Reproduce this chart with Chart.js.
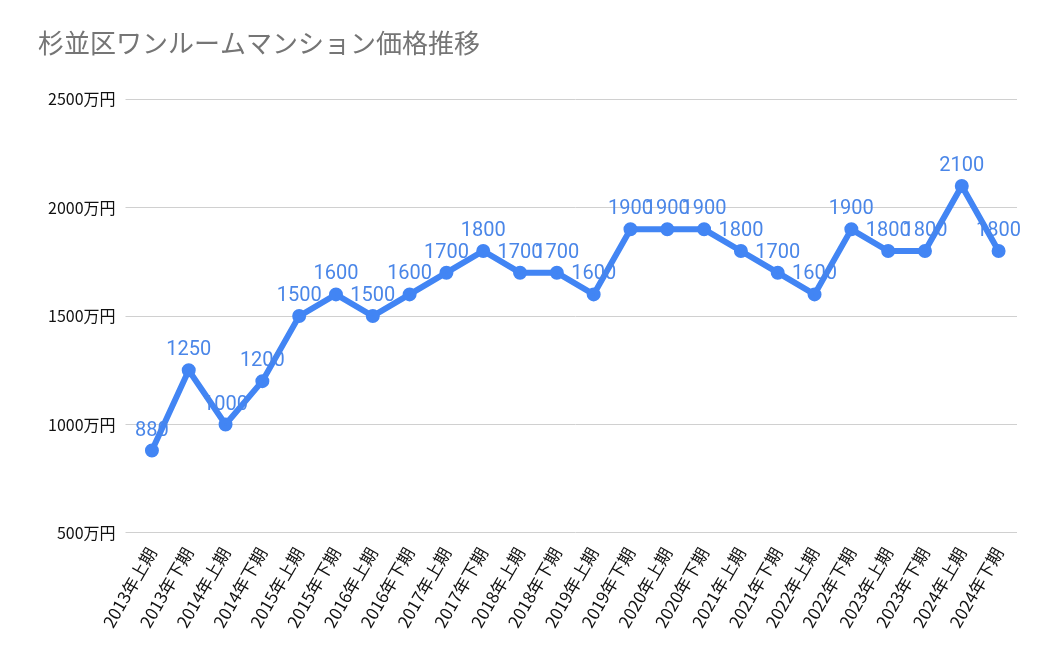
<!DOCTYPE html>
<html><head><meta charset="utf-8">
<script src="https://cdn.jsdelivr.net/npm/chart.js@4"></script>
<style>html,body{margin:0;padding:0;background:#fff}#w{width:1050px;height:649px;position:relative}</style>
</head><body><div id="w"><canvas id="c"></canvas></div>
<script>
const categories=["2013年上期","2013年下期","2014年上期","2014年下期","2015年上期","2015年下期","2016年上期","2016年下期","2017年上期","2017年下期","2018年上期","2018年下期","2019年上期","2019年下期","2020年上期","2020年下期","2021年上期","2021年下期","2022年上期","2022年下期","2023年上期","2023年下期","2024年上期","2024年下期"];
const prices=[880,1250,1000,1200,1500,1600,1500,1600,1700,1800,1700,1700,1600,1900,1900,1900,1800,1700,1600,1900,1800,1800,2100,1800];
const yTicks=[500,1000,1500,2000,2500];
const font="'Noto Sans CJK JP','Roboto',sans-serif";
const labelPlugin={id:'lbl',afterDatasetsDraw(chart){
  const ctx=chart.ctx;const meta=chart.getDatasetMeta(0);
  ctx.save();ctx.font="20px Roboto,'Noto Sans CJK JP',sans-serif";ctx.fillStyle='#4a86e8';ctx.textAlign='center';ctx.textBaseline='bottom';
  meta.data.forEach((p,i)=>{ctx.fillText(String(prices[i]),p.x,p.y-10);});
  ctx.restore();
}};
new Chart(document.getElementById('c'),{
  type:'line',
  data:{labels:categories,datasets:[{data:prices,borderColor:'#4285f4',backgroundColor:'#4285f4',borderWidth:6,pointRadius:4,pointHoverRadius:4,tension:0}]},
  options:{responsive:true,maintainAspectRatio:false,animation:false,
    layout:{padding:{left:38,right:33,top:10,bottom:15}},
    plugins:{legend:{display:false},tooltip:{enabled:false},
      title:{display:true,text:'杉並区ワンルームマンション価格推移',align:'start',color:'#757575',font:{family:font,size:26,weight:'normal'},padding:{top:18,bottom:40}}},
    scales:{
      x:{offset:true,grid:{display:false},border:{display:false},
        ticks:{color:'#111',font:{family:font,size:17},maxRotation:60,minRotation:60,autoSkip:false}},
      y:{min:500,max:2500,border:{display:false},grid:{color:'#d0d0d0'},
        afterBuildTicks(a){a.ticks=yTicks.map(v=>({value:v}));},
        ticks:{color:'#111',font:{family:font,size:16},padding:10,callback:v=>v+'万円'}}
    }},
  plugins:[labelPlugin]
});
</script></body></html>
